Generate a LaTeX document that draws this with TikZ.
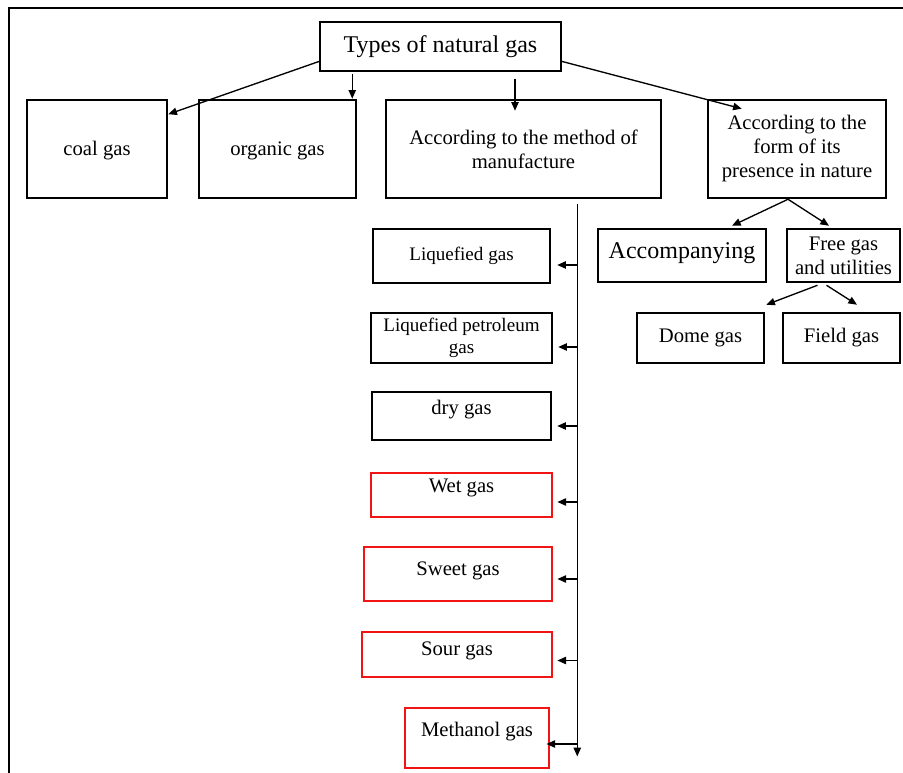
\documentclass[tikz,border=0pt]{standalone}
\usepackage{fontspec}
\setmainfont{Liberation Serif}
\usetikzlibrary{arrows.meta,calc}
\definecolor{ink}{RGB}{0,0,0}
\definecolor{rim}{RGB}{240,20,20}
\tikzset{
  kind/.style={draw=ink,line width=1.9pt,inner sep=2pt,align=center,
    font=\fontsize{15.5}{18}\selectfont},
  hot/.style={kind,draw=rim,line width=2.1pt},
  head/.style={kind,line width=1.2pt,font=\fontsize{18}{21}\selectfont},
  small/.style={font=\fontsize{14.3}{17}\selectfont},
  wh/.style 2 args={minimum width=#1pt,minimum height=#2pt},
  lift/.style={text depth=#1pt},
  arr/.style={-{Triangle[length=6.5pt,width=5.5pt]},line width=1pt,ink},
  frame/.style={line width=1.1pt,ink},
}

\begin{document}
\begin{tikzpicture}[x=0.75pt,y=-0.75pt]
  \useasboundingbox (0,0) rectangle (903,773);
  \draw[frame] (9,773) -- (9,8) -- (903,8);

  % root and first level
  \node[head,wh={180.75}{36.75}] (title) at (440.5,46.5) {Types of natural gas};
  \node[kind,wh={105}{73.5},lift=1] (coal) at (97,149) {coal gas};
  \node[kind,wh={117.75}{73.5},lift=1] (organic) at (277.5,149) {organic gas};
  \node[kind,wh={206.25}{73.5}] (method) at (523.5,149) {According to the method of\\ manufacture};
  \node[kind,wh={133.5}{73.5}] (form) at (797,149) {According to the\\ form of its\\ presence in nature};

  \draw[arr] (title.187) -- (coal.26);
  \draw[arr] ($(organic.north east)+(-5,-25)$) -- ($(organic.north east)+(-5,0)$);
  \draw[arr] ($(method.north)+(-8.5,-20)$) -- ($(method.north)+(-8.5,12)$);
  \draw[arr] (title.-7) -- ($(form.north west)+(35,10)$);

  % by method of manufacture
  \node[kind,small,wh={132.75}{40.5}] (liq) at (461.5,256) {Liquefied gas};
  \node[kind,small,wh={135.75}{37.5}] (lpg) at (461.5,338) {Liquefied petroleum\\ gas};
  \node[kind,wh={134.25}{36},lift=12.4] (dry) at (461.5,416) {dry gas};
  \node[hot,wh={135.75}{33},lift=13.9] (wet) at (461.5,495) {Wet gas};
  \node[hot,wh={141}{40.5},lift=7.9] (sweet) at (458,574) {Sweet gas};
  \node[hot,wh={142.5}{33.75},lift=9.4] (sour) at (457,654.5) {Sour gas};
  \node[hot,wh={108}{45},lift=12.4] (meth) at (477,738) {Methanol gas};

  \coordinate (spine) at ($(method.south east)+(-85,5)$);
  \draw[arr] (spine) -- ($(spine |- meth.south)+(0,-13)$);
  \foreach \n/\dy/\gap in {liq/9/6,lpg/9/5,dry/10/5,wet/7/4,sweet/5/4,sour/6/4,meth/6/-4}
    \draw[arr] ($(spine |- \n.east)+(0,\dy)$) -- ($(\n.east)+(\gap,\dy)$);

  % by form of presence in nature
  \node[kind,wh={126}{39.75},font=\fontsize{18}{21}\selectfont,lift=7] (accomp) at (682,255.5) {Accompanying};
  \node[kind,wh={84.75}{39.75}] (free) at (843.5,255.5) {Free gas\\ and utilities};
  \node[kind,wh={95.25}{37.5}] (dome) at (700.5,338) {Dome gas};
  \node[kind,wh={87.75}{37.5}] (field) at (841.5,338) {Field gas};

  \draw[arr] ($(form.south)+(-9,0)$) -- ($(accomp.north)+(50,-2)$);
  \draw[arr] ($(form.south)+(-9,0)$) -- ($(free.north)+(-14.5,-2)$);
  \draw[arr] ($(free.south)+(-26,2)$) -- ($(dome.north east)+(1,-7)$);
  \draw[arr] ($(free.south)+(-17,2)$) -- ($(field.north)+(15.5,-7)$);
\end{tikzpicture}
\end{document}
